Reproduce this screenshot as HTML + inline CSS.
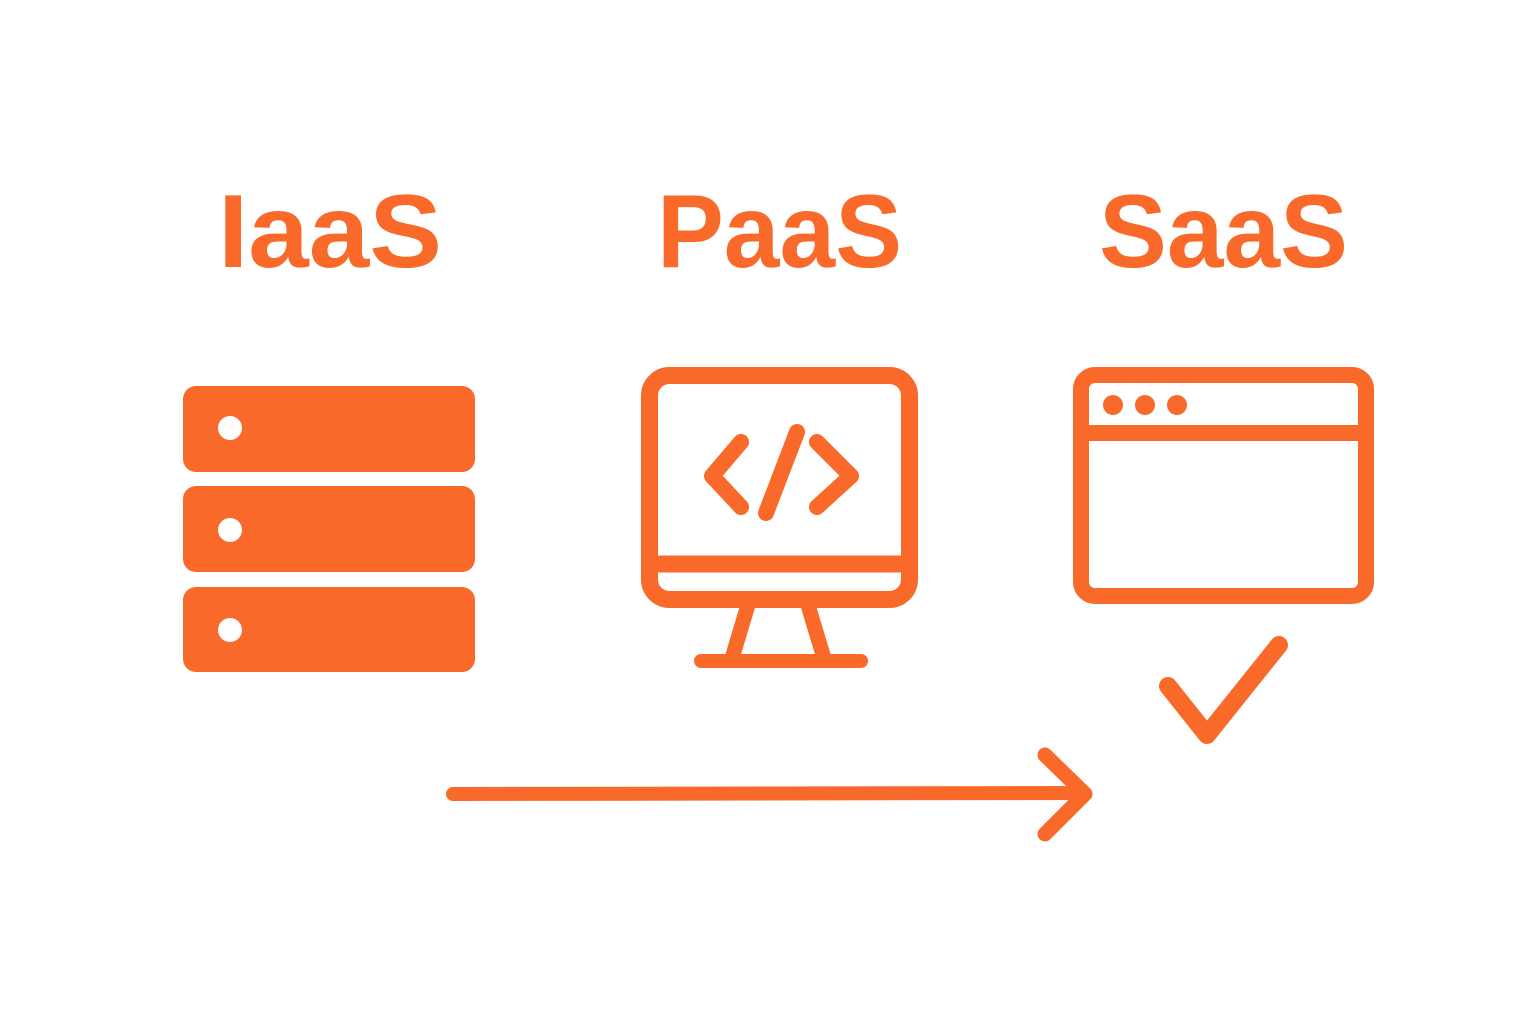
<!DOCTYPE html>
<html><head><meta charset="utf-8"><style>
html,body{margin:0;padding:0;background:#fff;width:1536px;height:1024px;overflow:hidden}
</style></head><body>
<svg width="1536" height="1024" viewBox="0 0 1536 1024" xmlns="http://www.w3.org/2000/svg">
<g fill="#F96A2A" font-family="Liberation Sans, sans-serif" font-weight="bold" font-size="104">
<text x="218" y="267" textLength="224" lengthAdjust="spacingAndGlyphs">IaaS</text>
<text x="657" y="267" textLength="245" lengthAdjust="spacingAndGlyphs">PaaS</text>
<text x="1099" y="267" textLength="249" lengthAdjust="spacingAndGlyphs">SaaS</text>
</g>
<g fill="#F96A2A">
<rect x="183" y="386" width="292" height="86" rx="13"/>
<rect x="183" y="486" width="292" height="86" rx="13"/>
<rect x="183" y="587" width="292" height="85" rx="13"/>
</g>
<g fill="#fff">
<circle cx="230" cy="428" r="12"/>
<circle cx="230" cy="530" r="12"/>
<circle cx="230" cy="630" r="12"/>
</g>
<g fill="none" stroke="#F96A2A" stroke-width="17" stroke-linecap="round" stroke-linejoin="round">
<rect x="649.5" y="375.5" width="260" height="224" rx="20"/>
<line x1="650" y1="564" x2="909" y2="564"/>
<line x1="748" y1="605" x2="733" y2="655" stroke-width="15"/>
<line x1="808" y1="605" x2="823" y2="655" stroke-width="15"/>
<line x1="701" y1="661" x2="861" y2="661" stroke-width="14"/>
<polyline points="741,442 712,476 741,507" stroke-width="16"/>
<line x1="797" y1="432" x2="766" y2="513" stroke-width="16"/>
<polyline points="817,442 851,476 817,507" stroke-width="16"/>
<rect x="1081" y="375" width="285" height="221" rx="14" stroke-width="16"/>
<line x1="1081" y1="433" x2="1366" y2="433" stroke-width="16"/>
<polyline points="1168,686 1207,735 1279,645" stroke-width="18"/>
<line x1="453" y1="794" x2="1083" y2="793" stroke-width="14"/>
<polyline points="1045,755 1085,794 1045,834" stroke-width="15"/>
</g>
<g fill="#F96A2A">
<circle cx="1113" cy="405" r="10"/>
<circle cx="1145" cy="405" r="10"/>
<circle cx="1177" cy="405" r="10"/>
</g>
</svg>
</body></html>
